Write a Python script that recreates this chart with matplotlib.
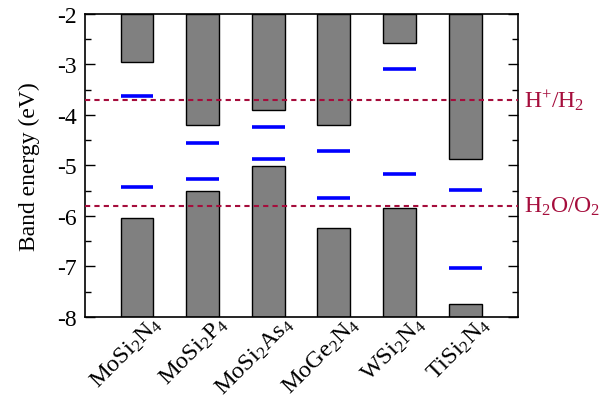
import numpy as np
import matplotlib.pyplot as plt
from matplotlib.ticker import MultipleLocator
from matplotlib.transforms import ScaledTranslation

plt.rcParams['font.family'] = 'Liberation Serif'
plt.rcParams['mathtext.fontset'] = 'custom'
plt.rcParams['mathtext.rm'] = 'Liberation Serif'
plt.rcParams['mathtext.it'] = 'Liberation Serif:italic'
plt.rcParams['axes.unicode_minus'] = False

# band edges (eV)
materials = [r'MoSi$_2$N$_4$', r'MoSi$_2$P$_4$', r'MoSi$_2$As$_4$',
             r'MoGe$_2$N$_4$', r'WSi$_2$N$_4$', r'TiSi$_2$N$_4$']
cbm = [-2.96, -4.19, -3.90, -4.20, -2.58, -4.88]
vbm = [-6.05, -5.51, -5.02, -6.24, -5.85, -7.75]
# blue marks
level_hi = [-3.63, -4.56, -4.24, -4.72, -3.09, -5.48]
level_lo = [-5.42, -5.27, -4.87, -5.64, -5.17, -7.04]

h_level = -3.70    # H+/H2
o_level = -5.80    # H2O/O2
ytop, ybot = -2, -8

x = np.arange(1, len(materials) + 1)
w = 0.5

fig, ax = plt.subplots(figsize=(6.12, 4.02), dpi=100)
fig.subplots_adjust(left=0.139, right=0.846, top=0.963, bottom=0.209)

# conduction bars hang from the top, valence bars rise from the bottom
ax.bar(x, np.array(cbm) - ytop, bottom=ytop, width=w, color='#808080',
       edgecolor='black', linewidth=1.0, zorder=2)
ax.bar(x, np.array(vbm) - ybot, bottom=ybot, width=w, color='#808080',
       edgecolor='black', linewidth=1.0, zorder=2)

ax.hlines(level_hi, x - w / 2, x + w / 2, color='#0000ff', linewidth=2.6, zorder=3)
ax.hlines(level_lo, x - w / 2, x + w / 2, color='#0000ff', linewidth=2.6, zorder=3)

red = '#a50d3c'
ax.axhline(h_level, color=red, linestyle=(0, (2.5, 2)), linewidth=1.5, zorder=4)
ax.axhline(o_level, color=red, linestyle=(0, (2.5, 2)), linewidth=1.5, zorder=4)
ax.text(1.015, h_level, r'H$^{+}$/H$_2$', transform=ax.get_yaxis_transform(),
        color=red, fontsize=17, va='center', ha='left')
ax.text(1.015, o_level, r'H$_2$O/O$_2$', transform=ax.get_yaxis_transform(),
        color=red, fontsize=17, va='center', ha='left')

ax.set_xlim(0.21, 6.8)
ax.set_ylim(ybot, ytop)
ax.yaxis.set_major_locator(MultipleLocator(1))
ax.yaxis.set_minor_locator(MultipleLocator(0.5))
ax.tick_params(axis='y', which='both', direction='in', right=True, labelsize=17)
ax.tick_params(axis='y', which='major', length=7, width=1, pad=6)
ax.tick_params(axis='y', which='minor', length=4, width=1)
ax.set_ylabel('Band energy (eV)', fontsize=17, labelpad=12)

ax.set_xticks(x)
ax.set_xticklabels(materials, rotation=45, ha='right', va='top',
                   rotation_mode='anchor', fontsize=17.5)
ax.tick_params(axis='x', length=0, pad=0)
shift = ScaledTranslation(0.14, 0.05, fig.dpi_scale_trans)
for lab in ax.get_xticklabels():
    lab.set_transform(lab.get_transform() + shift)

for s in ax.spines.values():
    s.set_linewidth(1.2)

fig.savefig('out.png', dpi=100)
